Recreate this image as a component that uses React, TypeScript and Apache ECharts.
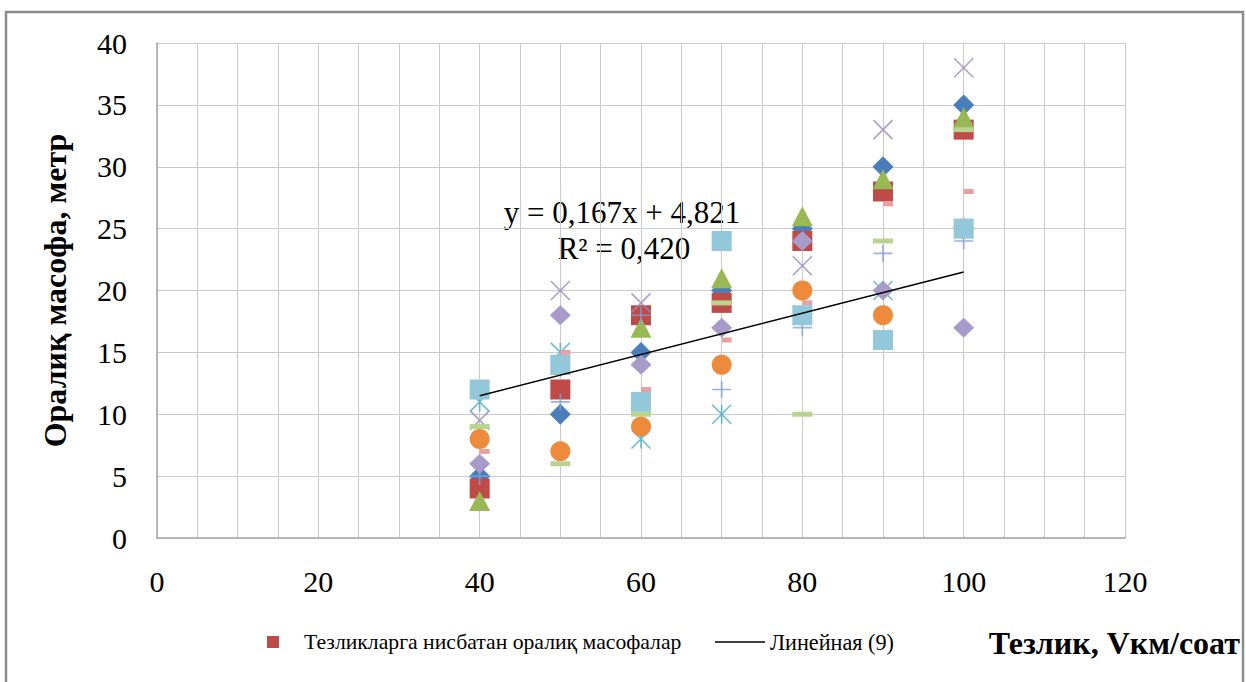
import React, { useEffect, useRef } from "react";
import * as echarts from "echarts";

const xValues = [40, 50, 60, 70, 80, 90, 100];
const blueDiamond = [5, 10, 15, 20, 25, 30, 35];
const redSquare = [4, 12, 18, 19, 24, 28, 33];
const greenTriangle = [3, 14, 17, 21, 26, 29, 34];
const purpleCross = [9.5, 20, 19, 24, 22, 33, 38];
const cyanStar = [11, 15, 8, 10, 18, 20, 25];
const orangeCircle = [8, 7, 9, 14, 20, 18, 25];
const bluePlus = [5, 11, 18, 12, 17, 23, 24];
const pinkDash = [7, 15, 12, 16, 19, 27, 28];
const greenDash = [9, 6, 10, 19, 10, 24, 33];
const lilacDiamond = [6, 18, 14, 17, 24, 20, 17];
const skySquare = [12, 14, 11, 24, 18, 16, 25];
const trendPoints = [
  [40, 11.5],
  [100, 21.5],
];

const legendMain = "Тезликларга нисбатан оралиқ масофалар";
const legendTrend = "Линейная (9)";
const yTitle = "Оралиқ масофа, метр";
const xTitle = "Тезлик, Vкм/соат";
const eqLine1 = "y = 0,167x + 4,821";
const eqLine2 = "R² = 0,420";
const xTickLabels = [0, 20, 40, 60, 80, 100, 120];

const FONT = "Liberation Serif";

const pts = (arr: number[]) => xValues.map((x, i) => [x, arr[i]]);

export default function App() {
  const ref = useRef<HTMLDivElement>(null);
  useEffect(() => {
    document.body.style.margin = "0";
    const chart = echarts.init(ref.current!, undefined, { renderer: "svg" });
    const mk = (
      name: string,
      data: number[],
      symbol: string,
      size: any,
      color: string,
      stroke = false,
      offset: number[] = [0, 0]
    ) => ({
      type: "scatter",
      name,
      data: pts(data),
      symbol,
      symbolSize: size,
      symbolOffset: offset,
      itemStyle: stroke
        ? { color: "transparent", borderColor: color, borderWidth: 1.6 }
        : { color, opacity: 1 },
      emphasis: { disabled: true },
    });
    chart.setOption({
      animation: false,
      backgroundColor: "#fff",
      textStyle: { fontFamily: FONT },
      grid: { left: 157, right: 121, top: 43, bottom: 144, show: false },
      xAxis: {
        type: "value",
        min: 0,
        max: 120,
        interval: 5,
        axisLine: { show: true, lineStyle: { color: "#A6A6A6", width: 1.5 } },
        axisTick: { show: false },
        splitLine: { show: true, lineStyle: { color: "#CACACA", width: 1 } },
        axisLabel: {
          margin: 28,
          fontFamily: FONT,
          fontSize: 30,
          color: "#000",
          formatter: (v: number) => (xTickLabels.includes(v) ? String(v) : ""),
        },
      },
      yAxis: {
        type: "value",
        min: 0,
        max: 40,
        interval: 5,
        axisLine: { show: true, lineStyle: { color: "#A6A6A6", width: 1.5 } },
        axisTick: { show: false },
        splitLine: { show: true, lineStyle: { color: "#CACACA", width: 1 } },
        axisLabel: { margin: 30, fontFamily: FONT, fontSize: 30, color: "#000" },
        name: yTitle,
        nameLocation: "middle",
        nameGap: 86,
        nameTextStyle: { fontFamily: FONT, fontSize: 32, fontWeight: "bold", color: "#000" },
      },
      legend: [
        {
          data: [{ name: legendMain, icon: "rect" }],
          left: 267,
          top: 631,
          itemWidth: 12,
          itemHeight: 12,
          padding: 0,
          selectedMode: false,
          textStyle: { fontFamily: FONT, fontSize: 21.7, color: "#000", padding: [0, 0, 0, 20] },
        },
        {
          data: [{ name: legendTrend, icon: "rect" }],
          left: 715,
          top: 631,
          itemWidth: 50,
          itemHeight: 1.5,
          padding: 0,
          selectedMode: false,
          textStyle: { fontFamily: FONT, fontSize: 22.2, color: "#000" },
        },
      ],
      series: [
        mk("Ряд1", blueDiamond, "diamond", [21, 21], "#4A7EBB"),
        mk(legendMain, redSquare, "rect", 20, "#BE4B48"),
        mk("Ряд3", greenTriangle, "triangle", [21, 20], "#98B954"),
        mk("Ряд4", purpleCross, "path://M0,0L20,20M20,0L0,20", 19, "#9A86BA", true),
        mk("Ряд5", cyanStar, "path://M0,0L20,20M20,0L0,20M10,0L10,20", 19, "#4BACC6", true),
        mk("Ряд6", orangeCircle, "circle", 20, "#EE8A3C"),
        mk("Ряд7", bluePlus, "path://M10,0L10,20M0,10L20,10", [19, 17], "#7F9FD5", true),
        mk("Ряд8", pinkDash, "rect", [10, 5], "#E6A1A0", false, [5, 0]),
        mk("Ряд9", greenDash, "rect", [20, 5], "#B9D48F"),
        mk("Ряд10", lilacDiamond, "diamond", [21, 20], "#A99BC9"),
        mk("Ряд11", skySquare, "rect", 20, "#92C8DA"),
        {
          type: "line",
          name: legendTrend,
          data: trendPoints,
          symbol: "none",
          lineStyle: { color: "#000", width: 1.5 },
          itemStyle: { color: "#000" },
          z: 5,
          emphasis: { disabled: true },
        },
      ],
      graphic: [
        {
          type: "rect",
          shape: { x: 6, y: 12, width: 1237, height: 690 },
          style: { fill: "none", stroke: "#8C8C8C", lineWidth: 2.5 },
          silent: true,
        },
        {
          type: "text",
          x: 1240,
          y: 643,
          style: {
            text: xTitle,
            font: `bold 32px ${FONT}`,
            fill: "#000",
            textAlign: "right",
            textVerticalAlign: "middle",
          },
        },
        {
          type: "text",
          x: 622,
          y: 212,
          style: {
            text: eqLine1,
            font: `31px ${FONT}`,
            fill: "#000",
            textAlign: "center",
            textVerticalAlign: "middle",
          },
        },
        {
          type: "text",
          x: 624,
          y: 248,
          style: {
            text: eqLine2,
            font: `31px ${FONT}`,
            fill: "#000",
            textAlign: "center",
            textVerticalAlign: "middle",
          },
        },
      ],
    });
    return () => chart.dispose();
  }, []);
  return <div ref={ref} style={{ width: 1246, height: 682 }} />;
}
